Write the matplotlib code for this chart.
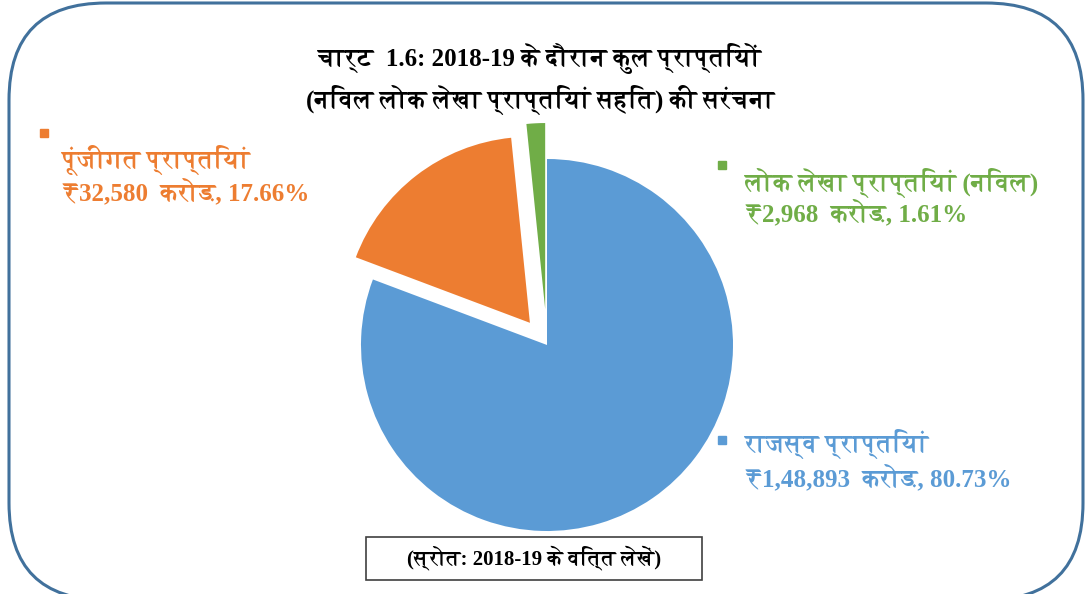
# Chart 1.6: composition of total receipts 2018-19 (pie)

import matplotlib
matplotlib.use("Agg")
import matplotlib.pyplot as plt
from matplotlib import font_manager
from matplotlib.ft2font import FT2Font
from matplotlib.patches import FancyBboxPatch, Rectangle

# data
labels = ["राजस्व प्राप्तियां", "पूंजीगत प्राप्तियां", "लोक लेखा प्राप्तियां (निवल)"]
amounts = ["₹1,48,893  करोड़", "₹32,580  करोड़", "₹2,968  करोड़"]
shares = [80.73, 17.66, 1.61]
colors = ["#5B9BD5", "#ED7D31", "#70AD47"]
title_lines = ["चार्ट  1.6: 2018-19 के दौरान कुल प्राप्तियों",
               "(निवल लोक लेखा प्राप्तियां सहित) की सरंचना"]
source = "(स्रोत: 2018-19 के वित्त लेखें)"

# find a font that has Devanagari
deva = None
for f in font_manager.fontManager.ttflist:
    try:
        if 0x0915 in FT2Font(f.fname).get_charmap():
            deva = f.name
            if "Serif" in f.name:
                break
    except Exception:
        pass
fams = ["Liberation Serif"] + ([deva] if deva else []) + ["DejaVu Sans"]

W, H = 1090, 594
fig = plt.figure(figsize=(W / 100, H / 100), dpi=100)
ax = fig.add_axes([0, 0, 1, 1])

# pie (pixel coords, y up)
ax.pie(shares, colors=colors, startangle=90, counterclock=False,
       center=(547, H - 345), radius=186, explode=[0, 28, 36],
       wedgeprops=dict(linewidth=0))
ax.set_xlim(0, W)
ax.set_ylim(0, H)
ax.set_aspect("equal")
ax.axis("off")

# outer rounded frame
ax.add_patch(FancyBboxPatch((9 + 97, H - 600 + 97), 1074 - 194, 597 - 194,
                            boxstyle="round,pad=97", fill=False,
                            ec="#41719C", lw=2.2, clip_on=False))

# title
ax.text(540, H - 58, title_lines[0], ha="center", va="center",
        fontsize=18, fontweight="bold", family=fams)
ax.text(540, H - 100, title_lines[1], ha="center", va="center",
        fontsize=18, fontweight="bold", family=fams)

# labels
pos = [(722, 440, 745, 444, 478), (44, 133, 62, 160, 192), (722, 165, 745, 183, 213)]
for i in range(3):
    mx, my, tx, y1, y2 = pos[i]
    ax.add_patch(Rectangle((mx - 4, H - my - 4), 8, 8, color=colors[i]))
    ax.text(tx, H - y1, labels[i], color=colors[i], fontsize=18,
            fontweight="bold", family=fams, va="center", ha="left")
    ax.text(tx, H - y2, f"{amounts[i]}, {shares[i]:.2f}%", color=colors[i],
            fontsize=18, fontweight="bold", family=fams, va="center", ha="left")

# source box
ax.add_patch(Rectangle((366, H - 580), 336, 43, fill=False, ec="#404040", lw=1.2))
ax.text(534, H - 558, source, ha="center", va="center", fontsize=15,
        fontweight="bold", family=fams)

fig.savefig("out.png", dpi=100)
